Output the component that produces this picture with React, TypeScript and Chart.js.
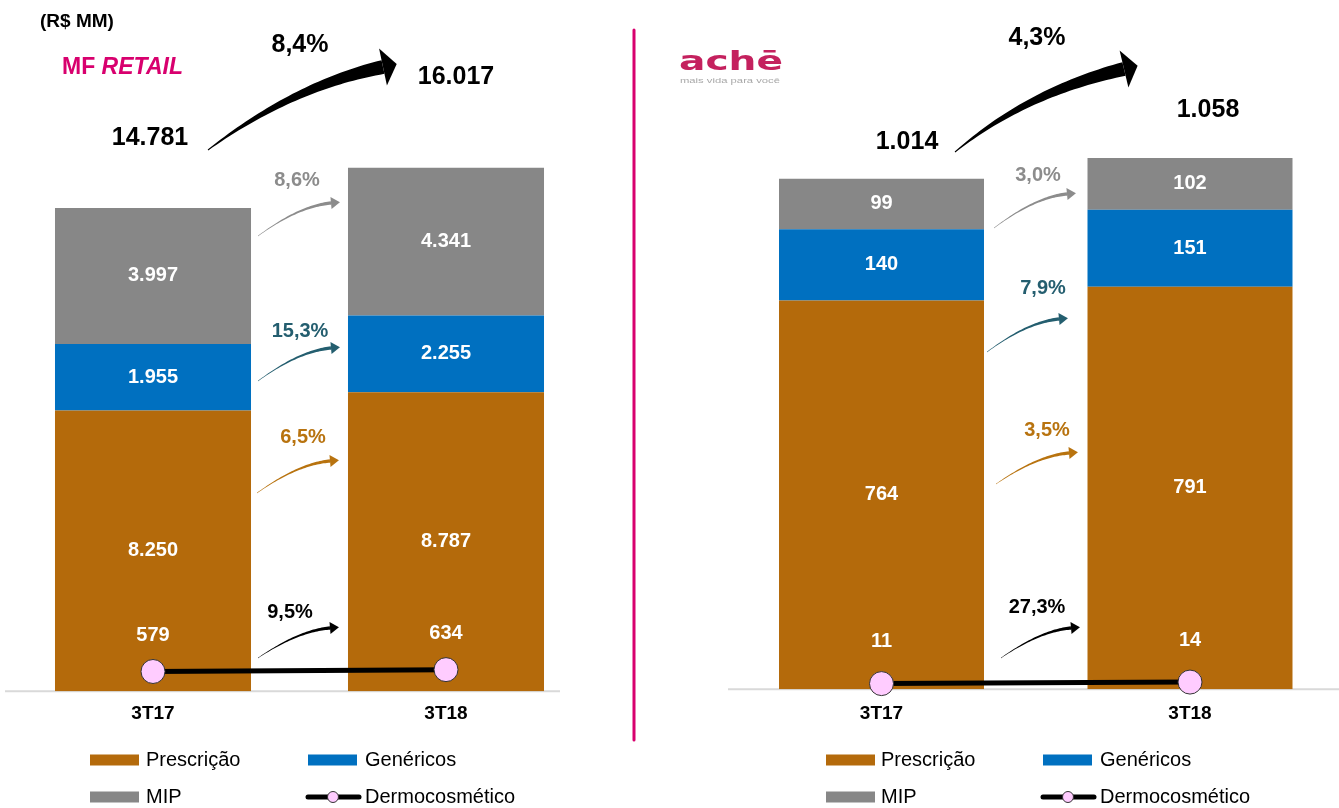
import React, { useEffect, useRef } from "react";
import { Chart, registerables } from "chart.js";

Chart.register(...registerables);

const FONT = '"Liberation Sans", Arial, Helvetica, sans-serif';

// ---------- data ----------
const categories = ["3T17", "3T18"];
const seriesNames = ["Prescrição", "Genéricos", "MIP", "Dermocosmético"];

const retailPrescricao = [8250, 8787];
const retailGenericos = [1955, 2255];
const retailMip = [3997, 4341];
const retailDermo = [579, 634];
const retailTotals = [14781, 16017];
const retailGrowth = ["6,5%", "15,3%", "8,6%", "9,5%"]; // presc, gen, mip, dermo
const retailTotalGrowth = "8,4%";

const achePrescricao = [764, 791];
const acheGenericos = [140, 151];
const acheMip = [99, 102];
const acheDermo = [11, 14];
const acheTotals = [1014, 1058];
const acheGrowth = ["3,5%", "7,9%", "3,0%", "27,3%"];
const acheTotalGrowth = "4,3%";

// ---------- styles ----------
const C_PRESC = "#B46A0B";
const C_GEN = "#0070C0";
const C_MIP = "#878787";
const C_PINK = "#FFCCFF";
const C_MAGENTA = "#D8006E";
const growthColors = ["#B8730F", "#245E6F", "#8C8C8C", "#000000"];

type Pt = [number, number];
interface ArrowLayout { p0: Pt; p2: Pt; label: Pt }
interface Panel {
  kind: "retail" | "ache";
  presc: number[]; gen: number[]; mip: number[]; dermo: number[];
  totals: number[]; growth: string[]; totalGrowth: string;
  canvasWidth: number;
  padding: { left: number; right: number; top: number; bottom: number };
  yMax: number; barPct: number; tickPadding: number;
  dermoLabelOffset: number;
  axisLine: [number, number];
  big: { p0: Pt; p1: Pt; p2: Pt };
  totalPos: Pt[]; totalGrowthPos: Pt;
  arrows: ArrowLayout[];
  legendBoxX: number[]; legendLineX: number; legendTextX: number[]; legendY: number[];
}

const retailPanel: Panel = {
  kind: "retail",
  presc: retailPrescricao, gen: retailGenericos, mip: retailMip, dermo: retailDermo,
  totals: retailTotals, growth: retailGrowth, totalGrowth: retailTotalGrowth,
  canvasWidth: 1339,
  padding: { left: 6.5, right: 746.5, top: 10.7, bottom: 72 },
  yMax: 20000, barPct: 0.669, tickPadding: 11,
  dermoLabelOffset: 36,
  axisLine: [5, 560],
  big: { p0: [208, 150], p1: [293, 86], p2: [383, 67] },
  totalPos: [[150, 138], [456, 77]], totalGrowthPos: [300, 45],
  arrows: [
    { p0: [257, 493], p2: [330, 461], label: [303, 437] },
    { p0: [258, 381], p2: [331, 348], label: [300, 331] },
    { p0: [258, 236], p2: [331, 203], label: [297, 180] },
    { p0: [258, 658], p2: [330, 628], label: [290, 612] },
  ],
  legendBoxX: [90, 308], legendLineX: 306, legendTextX: [146, 365], legendY: [760, 797],
};

const achePanel: Panel = {
  kind: "ache",
  presc: achePrescricao, gen: acheGenericos, mip: acheMip, dermo: acheDermo,
  totals: acheTotals, growth: acheGrowth, totalGrowth: acheTotalGrowth,
  canvasWidth: 1360,
  padding: { left: 727.25, right: 15.75, top: 27.6, bottom: 70 },
  yMax: 1300, barPct: 0.6645, tickPadding: 13,
  dermoLabelOffset: 42,
  axisLine: [728, 1339],
  big: { p0: [955, 152], p1: [1027, 92], p2: [1124, 69] },
  totalPos: [[907, 142], [1208, 110]], totalGrowthPos: [1037, 38],
  arrows: [
    { p0: [996, 484], p2: [1069, 453], label: [1047, 430] },
    { p0: [987, 352], p2: [1059, 319], label: [1043, 288] },
    { p0: [994, 228], p2: [1067, 194], label: [1038, 175] },
    { p0: [1001, 658], p2: [1071, 628], label: [1037, 607] },
  ],
  legendBoxX: [826, 1043], legendLineX: 1041, legendTextX: [881, 1100], legendY: [760, 797],
};

function fmt(n: number): string {
  return String(n).replace(/\B(?=(\d{3})+(?!\d))/g, ".");
}

function taperArrow(
  ctx: CanvasRenderingContext2D, p0: Pt, p1: Pt, p2: Pt,
  w0: number, w1: number, headLen: number, headHalf: number, color: string
) {
  const n = 40;
  const left: Pt[] = [];
  const right: Pt[] = [];
  for (let i = 0; i <= n; i++) {
    const t = i / n;
    const a = (1 - t) * (1 - t), b = 2 * (1 - t) * t, c = t * t;
    const x = a * p0[0] + b * p1[0] + c * p2[0];
    const y = a * p0[1] + b * p1[1] + c * p2[1];
    const dx = 2 * (1 - t) * (p1[0] - p0[0]) + 2 * t * (p2[0] - p1[0]);
    const dy = 2 * (1 - t) * (p1[1] - p0[1]) + 2 * t * (p2[1] - p1[1]);
    const len = Math.hypot(dx, dy) || 1;
    const nx = -dy / len, ny = dx / len;
    const w = (w0 + (w1 - w0) * t) / 2;
    left.push([x + nx * w, y + ny * w]);
    right.push([x - nx * w, y - ny * w]);
  }
  ctx.fillStyle = color;
  ctx.beginPath();
  ctx.moveTo(left[0][0], left[0][1]);
  for (const p of left) ctx.lineTo(p[0], p[1]);
  for (let i = right.length - 1; i >= 0; i--) ctx.lineTo(right[i][0], right[i][1]);
  ctx.closePath();
  ctx.fill();
  const dx = p2[0] - p1[0], dy = p2[1] - p1[1];
  const len = Math.hypot(dx, dy) || 1;
  const ux = dx / len, uy = dy / len;
  const nx = -uy, ny = ux;
  ctx.beginPath();
  ctx.moveTo(p2[0] + nx * headHalf, p2[1] + ny * headHalf);
  ctx.lineTo(p2[0] + ux * headLen, p2[1] + uy * headLen);
  ctx.lineTo(p2[0] - nx * headHalf, p2[1] - ny * headHalf);
  ctx.closePath();
  ctx.fill();
}

function text(ctx: CanvasRenderingContext2D, s: string, x: number, y: number, font: string, color: string, align: CanvasTextAlign = "center") {
  ctx.font = font;
  ctx.fillStyle = color;
  ctx.textAlign = align;
  ctx.textBaseline = "middle";
  ctx.fillText(s, x, y);
}

function stretchedText(ctx: CanvasRenderingContext2D, s: string, x: number, y: number, font: string, color: string, width: number, baseline: CanvasTextBaseline) {
  ctx.save();
  ctx.font = font;
  const w = ctx.measureText(s).width;
  ctx.translate(x, y);
  ctx.scale(width / w, 1);
  ctx.fillStyle = color;
  ctx.textAlign = "left";
  ctx.textBaseline = baseline;
  ctx.fillText(s, 0, 0);
  ctx.restore();
}

function makePlugin(p: Panel) {
  return {
    id: "annot_" + p.kind,
    beforeDatasetsDraw(chart: any) {
      const ctx: CanvasRenderingContext2D = chart.ctx;
      const yb = chart.scales.y.getPixelForValue(0);
      ctx.save();
      ctx.strokeStyle = "#D9D9D9";
      ctx.lineWidth = 2;
      ctx.beginPath();
      ctx.moveTo(p.axisLine[0], yb);
      ctx.lineTo(p.axisLine[1], yb);
      ctx.stroke();
      ctx.restore();
    },
    afterDraw(chart: any) {
      const ctx: CanvasRenderingContext2D = chart.ctx;
      ctx.save();
      const valFont = `bold 20px ${FONT}`;
      const seriesVals = [p.presc, p.gen, p.mip];
      for (let d = 0; d < 3; d++) {
        const meta = chart.getDatasetMeta(d);
        meta.data.forEach((el: any, j: number) => {
          const { x, y, base } = el.getProps(["x", "y", "base"], true);
          text(ctx, fmt(seriesVals[d][j]), x, (y + base) / 2, valFont, "#FFFFFF");
        });
      }
      const dm = chart.getDatasetMeta(3);
      dm.data.forEach((el: any, j: number) => {
        const { x, y } = el.getProps(["x", "y"], true);
        text(ctx, fmt(p.dermo[j]), x, y - p.dermoLabelOffset, valFont, "#FFFFFF");
      });
      p.arrows.forEach((a, i) => {
        const dx = a.p2[0] - a.p0[0], dy = a.p2[1] - a.p0[1];
        const p1: Pt = [a.p0[0] + 0.56 * dx, a.p0[1] + 0.91 * dy];
        taperArrow(ctx, a.p0, p1, a.p2, 0.4, 3.4, 9, 6, growthColors[i]);
        text(ctx, p.growth[i], a.label[0], a.label[1], `bold 20px ${FONT}`, growthColors[i]);
      });
      taperArrow(ctx, p.big.p0, p.big.p1, p.big.p2, 1, 14, 14, 19, "#000000");
      const bigFont = `bold 25px ${FONT}`;
      p.totals.forEach((t, i) => text(ctx, fmt(t), p.totalPos[i][0], p.totalPos[i][1], bigFont, "#000000"));
      text(ctx, p.totalGrowth, p.totalGrowthPos[0], p.totalGrowthPos[1], bigFont, "#000000");
      // legend
      const lf = `20px ${FONT}`;
      const boxes = [C_PRESC, C_GEN, C_MIP];
      const pos: [number, number][] = [[0, 0], [1, 0], [0, 1]];
      pos.forEach(([c, r], i) => {
        ctx.fillStyle = boxes[i];
        ctx.fillRect(p.legendBoxX[c], p.legendY[r] - 5.5, 49, 11);
        text(ctx, seriesNames[i], p.legendTextX[c], p.legendY[r], lf, "#000000", "left");
      });
      const ly = p.legendY[1];
      ctx.strokeStyle = "#000000";
      ctx.lineWidth = 5;
      ctx.lineCap = "round";
      ctx.beginPath();
      ctx.moveTo(p.legendLineX + 2, ly);
      ctx.lineTo(p.legendLineX + 53, ly);
      ctx.stroke();
      ctx.beginPath();
      ctx.arc(p.legendLineX + 27, ly, 5.5, 0, Math.PI * 2);
      ctx.fillStyle = C_PINK;
      ctx.fill();
      ctx.lineWidth = 1;
      ctx.strokeStyle = "#333333";
      ctx.stroke();
      text(ctx, seriesNames[3], p.legendTextX[1], ly, lf, "#000000", "left");
      // headers
      if (p.kind === "retail") {
        text(ctx, "(R$ MM)", 40, 22, `bold 19px ${FONT}`, "#000000", "left");
        ctx.font = `bold 23px ${FONT}`;
        const mfW = ctx.measureText("MF ").width;
        text(ctx, "MF ", 62, 68, `bold 23px ${FONT}`, C_MAGENTA, "left");
        text(ctx, "RETAIL", 62 + mfW, 68, `italic bold 23px ${FONT}`, C_MAGENTA, "left");
        ctx.strokeStyle = C_MAGENTA;
        ctx.lineWidth = 3;
        ctx.beginPath();
        ctx.moveTo(634, 30);
        ctx.lineTo(634, 740);
        ctx.stroke();
      } else {
        stretchedText(ctx, "achē", 679, 70, `bold 27px "DejaVu Sans", ${FONT}`, "#C4215E", 104, "alphabetic");
        stretchedText(ctx, "mais vida para você", 680, 81, `8px ${FONT}`, "#A8A8A8", 100, "middle");
      }
      ctx.restore();
    },
  };
}

function makeConfig(p: Panel): any {
  return {
    type: "bar",
    data: {
      labels: categories,
      datasets: [
        { label: seriesNames[0], data: p.presc, backgroundColor: C_PRESC, stack: "bars", order: 1 },
        { label: seriesNames[1], data: p.gen, backgroundColor: C_GEN, stack: "bars", order: 1 },
        { label: seriesNames[2], data: p.mip, backgroundColor: C_MIP, stack: "bars", order: 1 },
        {
          type: "line", label: seriesNames[3], data: p.dermo, stack: "dermo", order: 0,
          borderColor: "#000000", borderWidth: 5, pointRadius: 12,
          pointBackgroundColor: C_PINK, pointBorderColor: "#333333", pointBorderWidth: 1,
          clip: false, tension: 0,
        },
      ],
    },
    options: {
      responsive: false,
      animation: false,
      events: [],
      layout: { padding: p.padding, autoPadding: false },
      datasets: { bar: { barPercentage: p.barPct, categoryPercentage: 1 } },
      plugins: { legend: { display: false }, tooltip: { enabled: false } },
      scales: {
        x: {
          stacked: true,
          grid: { display: false, drawTicks: false },
          border: { display: false },
          ticks: { color: "#000000", font: { family: FONT, size: 19, weight: "bold" }, padding: p.tickPadding },
        },
        y: { stacked: true, display: false, min: 0, max: p.yMax },
      },
    },
    plugins: [makePlugin(p)],
  };
}

function PanelChart({ panel }: { panel: Panel }) {
  const ref = useRef<HTMLCanvasElement>(null);
  useEffect(() => {
    const chart = new Chart(ref.current as HTMLCanvasElement, makeConfig(panel));
    return () => chart.destroy();
  }, [panel]);
  return (
    <canvas
      ref={ref}
      width={panel.canvasWidth}
      height={808}
      style={{ position: "absolute", left: 0, top: 0, width: panel.canvasWidth, height: 808 }}
    />
  );
}

export default function App() {
  return (
    <div
      style={{
        position: "fixed", left: 0, top: 0, width: 1339, height: 808,
        overflow: "hidden", background: "#FFFFFF",
      }}
    >
      <PanelChart panel={retailPanel} />
      <PanelChart panel={achePanel} />
    </div>
  );
}
